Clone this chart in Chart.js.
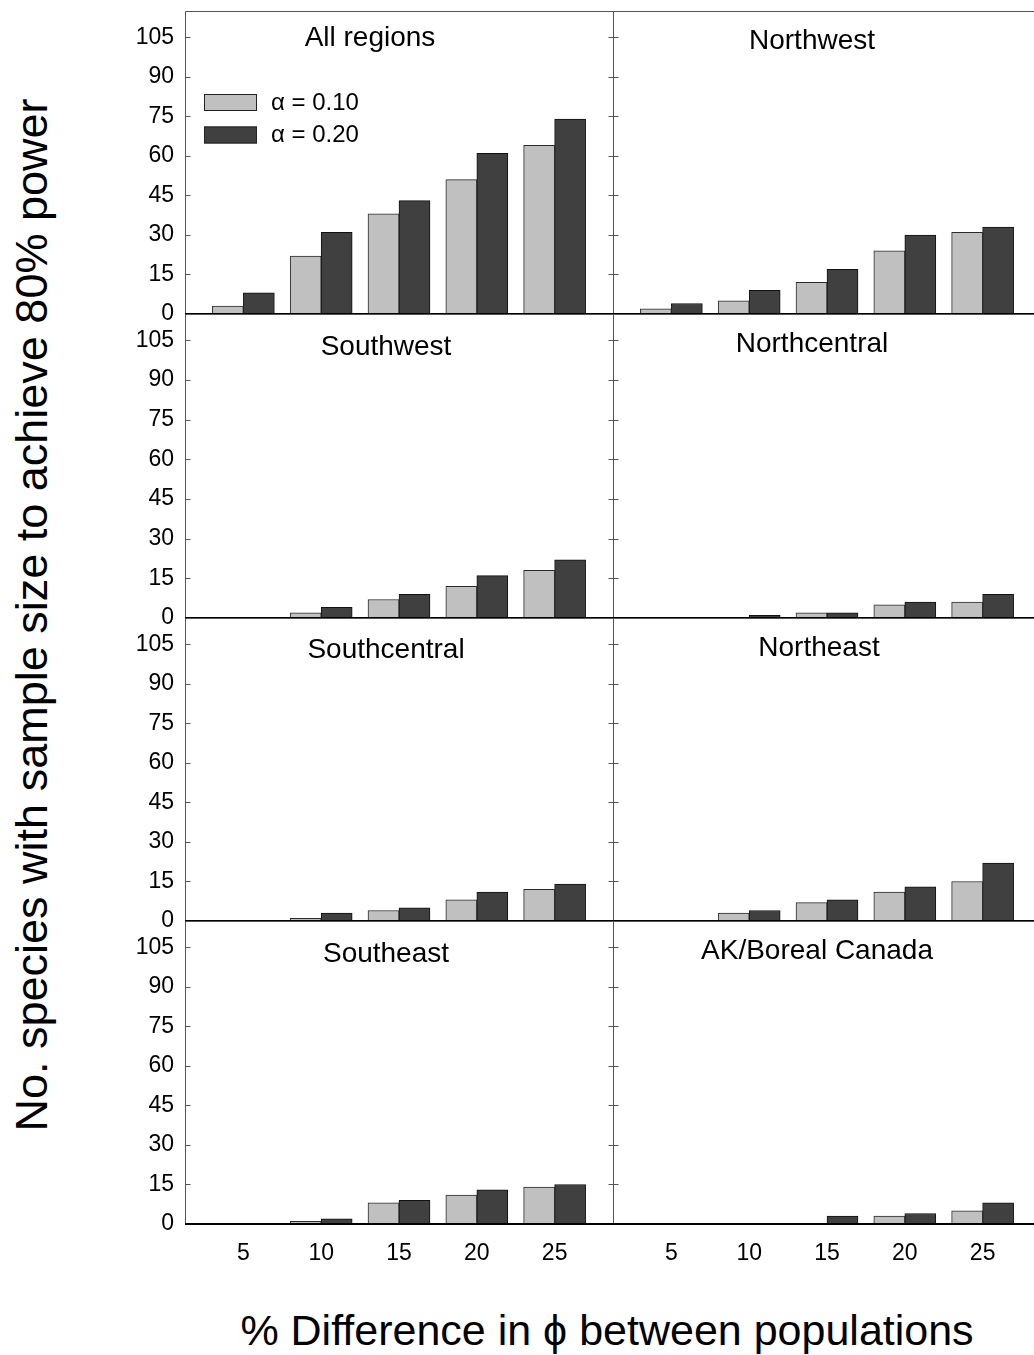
<!DOCTYPE html>
<html>
<head>
<meta charset="utf-8">
<script src="https://cdn.jsdelivr.net/npm/chart.js@4.4.1/dist/chart.umd.min.js"></script>
<style>
    html, body { margin: 0; padding: 0; background: #fff; overflow: hidden; }
    #page { position: relative; width: 1034px; height: 1355px; overflow: hidden; font-family: "Liberation Sans", Arial, sans-serif; color: #000; }
    #page canvas { position: absolute; }
    #y-title { position: absolute; left: 32px; top: 615px; transform: translate(-50%, -50%) rotate(-90deg); white-space: nowrap; font-size: 45px; }
    #x-title { position: absolute; left: 607px; top: 1330px; transform: translate(-50%, -50%); white-space: nowrap; font-size: 43px; }
</style>
</head>
<body>
<div id="page">
    <div id="y-title">No. species with sample size to achieve 80% power</div>
    <div id="x-title">% Difference in ϕ between populations</div>
</div>
<script>
// % difference in phi
const categories = [5, 10, 15, 20, 25];
const yTicks = [0, 15, 30, 45, 60, 75, 90, 105];
const seriesLabels = ['α = 0.10', 'α = 0.20'];

const regions = ['All regions', 'Northwest', 'Southwest', 'Northcentral', 'Southcentral', 'Northeast', 'Southeast', 'AK/Boreal Canada'];

// no. species reaching 80% power, alpha = 0.10 / alpha = 0.20
const allRegions10 = [3, 22, 38, 51, 64];
const allRegions20 = [8, 31, 43, 61, 74];
const northwest10 = [2, 5, 12, 24, 31];
const northwest20 = [4, 9, 17, 30, 33];
const southwest10 = [0, 2, 7, 12, 18];
const southwest20 = [0, 4, 9, 16, 22];
const northcentral10 = [0, 0, 2, 5, 6];
const northcentral20 = [0, 1, 2, 6, 9];
const southcentral10 = [0, 1, 4, 8, 12];
const southcentral20 = [0, 3, 5, 11, 14];
const northeast10 = [0, 3, 7, 11, 15];
const northeast20 = [0, 4, 8, 13, 22];
const southeast10 = [0, 1, 8, 11, 14];
const southeast20 = [0, 2, 9, 13, 15];
const boreal10 = [0, 0, 0, 3, 5];
const boreal20 = [0, 0, 3, 4, 8];

const regionValues = [
    [allRegions10, allRegions20],
    [northwest10, northwest20],
    [southwest10, southwest20],
    [northcentral10, northcentral20],
    [southcentral10, southcentral20],
    [northeast10, northeast20],
    [southeast10, southeast20],
    [boreal10, boreal20],
];

const FONT = '"Liberation Sans", Arial, sans-serif';
Chart.defaults.font.family = FONT;
Chart.defaults.color = '#000';

// panel layout (pixels on the page)
const colLeft = [185, 613];
const rowTop = [11, 314, 618, 921];
const rowBottom = [314, 618, 921, 1224];
const plotWidth = 428;
// title centre offsets from the plot's top-left corner
const titleOffsets = [[185, 27], [199, 30], [201, 33], [199, 30], [201, 32], [206, 30], [201, 33], [204, 30]];

const panelFrame = {
    id: 'panelFrame',
    afterDatasetsDraw(chart) {
        let ctx = chart.ctx;
        let {left, top, right, bottom} = chart.chartArea;
        let y = chart.scales.y;
        left = Math.round(left) + 0.5;
        right = Math.round(right) + 0.5;
        top = Math.round(top) + 0.5;
        bottom = Math.round(bottom);

        ctx.save();
        ctx.strokeStyle = '#555';
        ctx.lineWidth = 1;
        ctx.beginPath();
        ctx.moveTo(left, bottom);
        ctx.lineTo(left, top);
        ctx.lineTo(right, top);
        ctx.lineTo(right, bottom);
        yTicks.forEach(v => {
            if (v === 0) return;
            let py = Math.round(y.getPixelForValue(v)) + 0.5;
            ctx.moveTo(left, py);
            ctx.lineTo(left + 5, py);
            ctx.moveTo(right - 5, py);
            ctx.lineTo(right, py);
        });
        ctx.stroke();

        ctx.strokeStyle = '#000';
        ctx.lineWidth = 2;
        ctx.beginPath();
        ctx.moveTo(left - 0.5, bottom);
        ctx.lineTo(right + 0.5, bottom);
        ctx.stroke();
        ctx.restore();
    }
};

const panelTitle = {
    id: 'panelTitle',
    afterDraw(chart, args, opts) {
        let ctx = chart.ctx;
        ctx.save();
        ctx.font = `28px ${FONT}`;
        ctx.fillStyle = '#000';
        ctx.textAlign = 'center';
        ctx.textBaseline = 'middle';
        ctx.fillText(opts.text, chart.chartArea.left + opts.x, chart.chartArea.top + opts.y);
        ctx.restore();
    }
};

const insetLegend = {
    id: 'insetLegend',
    afterDraw(chart, args, opts) {
        if (!opts.show) return;
        let ctx = chart.ctx;
        let x = chart.chartArea.left + 19;
        ctx.save();
        ctx.font = `24px ${FONT}`;
        ctx.textBaseline = 'middle';
        ctx.textAlign = 'left';
        chart.data.datasets.forEach((ds, i) => {
            let y = chart.chartArea.top + 83 + i * 32.5;
            ctx.fillStyle = ds.backgroundColor;
            ctx.fillRect(x, y, 53, 17);
            ctx.strokeStyle = '#222';
            ctx.lineWidth = 1;
            ctx.strokeRect(x + 0.5, y + 0.5, 52, 16);
            ctx.fillStyle = '#000';
            ctx.fillText(ds.label, x + 67, y + 9);
        });
        ctx.restore();
    }
};

function makePanel(index) {
    let col = index % 2;
    let row = Math.floor(index / 2);
    let isBottom = row === 3;
    let plotHeight = rowBottom[row] - rowTop[row];

    let padTop = 15;
    let yAxisWidth = col === 0 ? 85 : 0;
    let padLeft = col === 0 ? 0 : 10;
    let xAxisHeight = isBottom ? 45 : 0;
    let padBottom = isBottom ? 0 : 15;

    let canvas = document.createElement('canvas');
    let width = yAxisWidth + padLeft + plotWidth + 10;
    let height = padTop + plotHeight + xAxisHeight + padBottom;
    canvas.width = width;
    canvas.height = height;
    canvas.style.width = width + 'px';
    canvas.style.height = height + 'px';
    canvas.style.left = (colLeft[col] - yAxisWidth - padLeft) + 'px';
    canvas.style.top = (rowTop[row] - padTop) + 'px';
    document.getElementById('page').appendChild(canvas);

    let [values10, values20] = regionValues[index];

    return new Chart(canvas, {
        type: 'bar',
        data: {
            datasets: [
                {
                    label: seriesLabels[0],
                    data: categories.map((c, i) => ({x: c, y: values10[i]})),
                    backgroundColor: '#c0c0c0',
                    borderColor: '#2a2a2a',
                    borderWidth: 1,
                    barThickness: 31,
                },
                {
                    label: seriesLabels[1],
                    data: categories.map((c, i) => ({x: c, y: values20[i]})),
                    backgroundColor: '#404040',
                    borderColor: '#111',
                    borderWidth: 1,
                    barThickness: 31,
                }
            ]
        },
        options: {
            responsive: false,
            animation: false,
            devicePixelRatio: 1,
            layout: {
                padding: {top: padTop, left: padLeft, right: 10, bottom: padBottom}
            },
            scales: {
                x: {
                    type: 'linear',
                    display: isBottom,
                    offset: false,
                    min: 1.25,
                    max: 28.75,
                    grid: {display: false, drawTicks: false},
                    border: {display: false},
                    ticks: {padding: 16, font: {size: 23}},
                    afterBuildTicks: scale => { scale.ticks = categories.map(v => ({value: v})); },
                    afterFit: scale => {
                        scale.height = xAxisHeight;
                        scale.paddingLeft = 0;
                        scale.paddingRight = 0;
                    }
                },
                y: {
                    display: col === 0,
                    min: 0,
                    max: 115,
                    grid: {display: false, drawTicks: false},
                    border: {display: false},
                    ticks: {padding: 11, font: {size: 23}},
                    afterBuildTicks: scale => { scale.ticks = yTicks.map(v => ({value: v})); },
                    afterFit: scale => {
                        scale.width = yAxisWidth;
                        scale.paddingTop = 0;
                        scale.paddingBottom = 0;
                    }
                }
            },
            plugins: {
                legend: {display: false},
                tooltip: {enabled: false},
                panelTitle: {text: regions[index], x: titleOffsets[index][0], y: titleOffsets[index][1]},
                insetLegend: {show: index === 0}
            }
        },
        plugins: [panelFrame, panelTitle, insetLegend]
    });
}

regions.forEach((name, i) => makePanel(i));
</script>
</body>
</html>
